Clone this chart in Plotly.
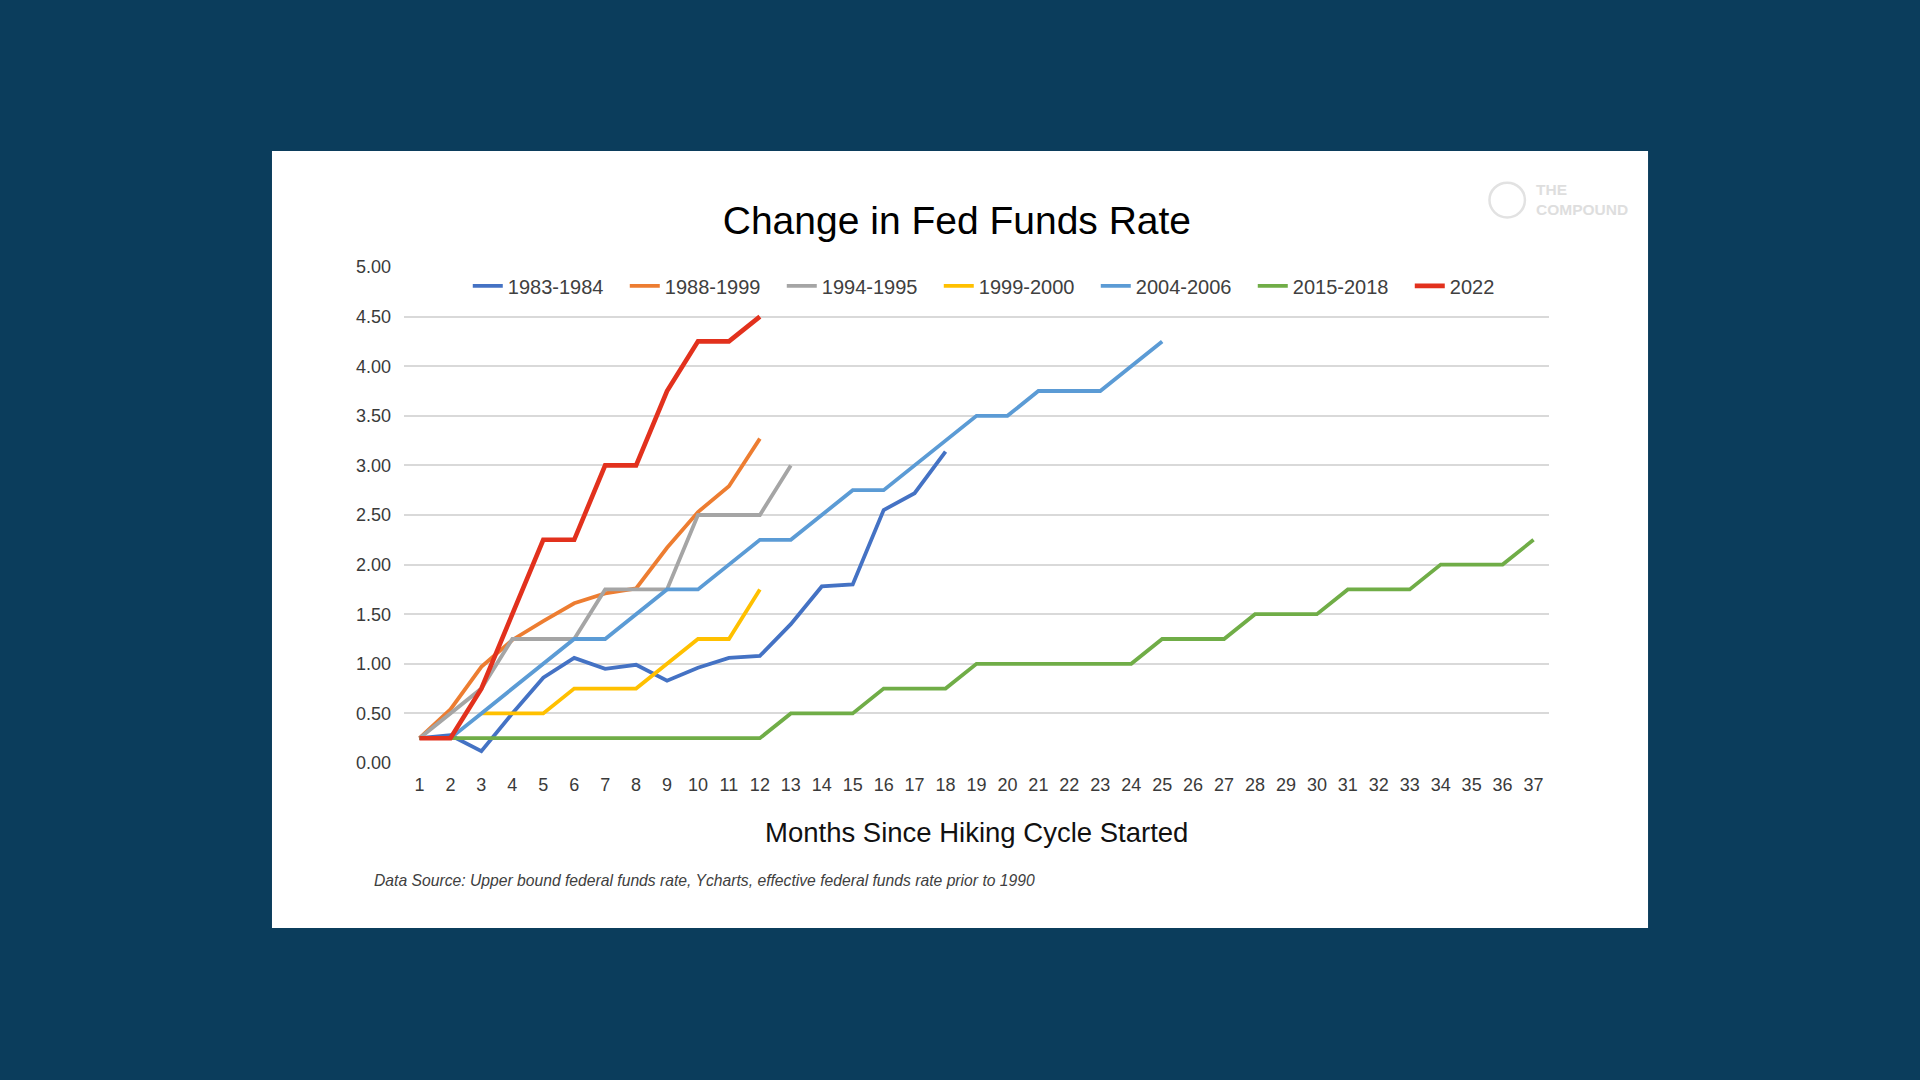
import plotly.graph_objects as go

months = list(range(1, 38))

series_names = ["1983-1984", "1988-1999", "1994-1995", "1999-2000", "2004-2006", "2015-2018", "2022"]

s_1983 = [0.25, 0.28, 0.12, 0.50, 0.86, 1.06, 0.95, 0.99, 0.83, 0.96, 1.06, 1.08, 1.40, 1.78, 1.80, 2.55, 2.72, 3.14]
s_1988 = [0.25, 0.54, 0.97, 1.24, 1.43, 1.61, 1.71, 1.76, 2.17, 2.53, 2.79, 3.27]
s_1994 = [0.25, 0.50, 0.75, 1.25, 1.25, 1.25, 1.75, 1.75, 1.75, 2.50, 2.50, 2.50, 3.00]
s_1999 = [None, None, 0.50, 0.50, 0.50, 0.75, 0.75, 0.75, 1.00, 1.25, 1.25, 1.75]
s_2004 = [0.25, 0.25, 0.50, 0.75, 1.00, 1.25, 1.25, 1.50, 1.75, 1.75, 2.00, 2.25, 2.25, 2.50, 2.75,
          2.75, 3.00, 3.25, 3.50, 3.50, 3.75, 3.75, 3.75, 4.00, 4.25]
s_2015 = [0.25, 0.25, 0.25, 0.25, 0.25, 0.25, 0.25, 0.25, 0.25, 0.25, 0.25, 0.25, 0.50, 0.50, 0.50,
          0.75, 0.75, 0.75, 1.00, 1.00, 1.00, 1.00, 1.00, 1.00, 1.25, 1.25, 1.25, 1.50, 1.50, 1.50,
          1.75, 1.75, 1.75, 2.00, 2.00, 2.00, 2.25]
s_2022 = [0.25, 0.25, 0.75, 1.50, 2.25, 2.25, 3.00, 3.00, 3.75, 4.25, 4.25, 4.50]

series_values = [s_1983, s_1988, s_1994, s_1999, s_2004, s_2015, s_2022]
series_colors = ["#4472C4", "#ED7D31", "#A5A5A5", "#FFC000", "#5B9BD5", "#70AD47", "#E2311D"]
series_widths = [3.8, 3.8, 3.8, 3.8, 3.8, 3.8, 4.6]

y_ticks = [0, 0.5, 1, 1.5, 2, 2.5, 3, 3.5, 4, 4.5, 5]

FONT = "Liberation Sans, Arial, sans-serif"
NAVY = "#0B3D5C"

fig = go.Figure()
for name, vals, col, w in zip(series_names, series_values, series_colors, series_widths):
    fig.add_trace(go.Scatter(
        x=months[:len(vals)], y=vals, mode="lines", name=name,
        line=dict(color=col, width=w), connectgaps=False,
    ))

# White panel behind chart
fig.add_shape(type="rect", xref="paper", yref="paper",
              x0=-0.1153, x1=1.0865, y0=-0.3327, y1=1.2339,
              fillcolor="white", line=dict(width=0), layer="below")

# watermark logo
fig.add_shape(type="circle", xref="paper", yref="paper",
              x0=0.948, x1=0.979, y0=1.100, y1=1.170,
              line=dict(color="#e2e2e2", width=2.5), layer="below")
fig.add_annotation(xref="paper", yref="paper", x=0.987, y=1.137, xanchor="left", yanchor="middle",
                   text="<b>THE<br>COMPOUND</b>", showarrow=False, align="left",
                   font=dict(family=FONT, size=15.5, color="#dedede"))

fig.add_annotation(xref="paper", yref="paper", x=0.5, y=-0.141, xanchor="center", yanchor="middle",
                   text="Months Since Hiking Cycle Started", showarrow=False,
                   font=dict(family=FONT, size=27.5, color="#111111"))

fig.add_annotation(xref="paper", yref="paper", x=-0.028, y=-0.236, xanchor="left", yanchor="middle",
                   text="<i>Data Source: Upper bound federal funds rate, Ycharts, effective federal funds rate prior to 1990</i>",
                   showarrow=False, font=dict(family=FONT, size=15.7, color="#404040"))

fig.update_layout(
    width=1920, height=1080, autosize=False,
    paper_bgcolor=NAVY, plot_bgcolor="white",
    margin=dict(l=404, r=371, t=267, b=317),
    title=dict(text="Change in Fed Funds Rate", x=0.4984, xanchor="center",
               y=1 - 220 / 1080, yanchor="middle",
               font=dict(family=FONT, size=39, color="#000000")),
    legend=dict(orientation="h", x=0.0557, xanchor="left", y=0.962, yanchor="middle",
                font=dict(family=FONT, size=20, color="#404040"),
                bgcolor="rgba(0,0,0,0)", itemwidth=30, tracegroupgap=0,
                entrywidth=112, entrywidthmode="pixels"),
    showlegend=True,
)

fig.update_xaxes(range=[0.5, 37.5], tickmode="array", tickvals=months,
                 ticktext=[str(m) for m in months], showgrid=False, zeroline=False,
                 showline=False, ticks="", ticklen=0, ticklabelstandoff=9,
                 tickfont=dict(family=FONT, size=18, color="#3a3a3a"))
fig.update_yaxes(range=[0, 5], tickmode="array", tickvals=y_ticks,
                 ticktext=[f"{v:.2f}" for v in y_ticks],
                 showgrid=True, gridcolor="#D9D9D9", gridwidth=1.5, zeroline=False,
                 showline=False, ticks="", ticklabelstandoff=12,
                 tickfont=dict(family=FONT, size=18, color="#3a3a3a"))

fig.write_html("out.html", config={"displayModeBar": False},
               post_script="document.body.style.margin='0';document.body.style.background='#0B3D5C';")
